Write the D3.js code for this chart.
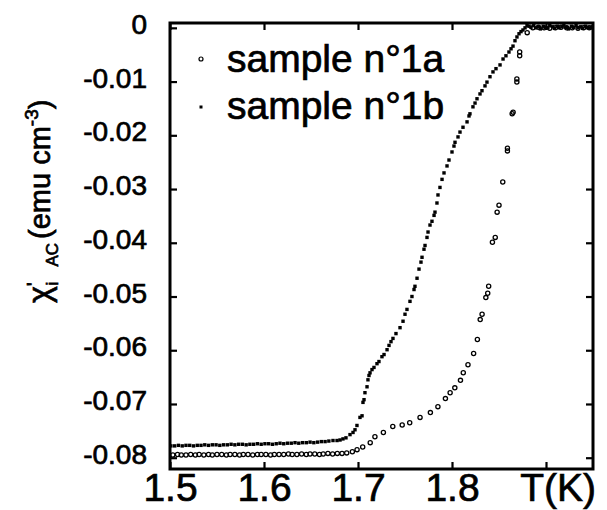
<!DOCTYPE html>
<html><head><meta charset="utf-8">
<script src="https://cdn.jsdelivr.net/npm/d3@7"></script>
<style>
html,body{margin:0;padding:0;background:#fff;}
svg{display:block;font-family:"Liberation Sans",Arial,Helvetica,sans-serif;}
</style></head>
<body>
<svg id="chart" width="607" height="510"></svg>
<script>
// ---- data ----
const seriesNames = ["sample n\u00b01a", "sample n\u00b01b"];

// sample n°1a (open circles)
const tempA = [1.503,1.508,1.512,1.517,1.522,1.527,1.531,1.536,1.541,1.545,1.550,1.555,1.560,1.564,1.569,1.574,1.578,1.583,1.588,1.593,1.597,1.602,1.607,1.611,1.616,1.621,1.626,1.630,1.635,1.640,1.645,1.649,1.654,1.659,1.663,1.668,1.673,1.678,1.683,
 1.688,1.694,1.699,1.705,1.713,1.718,1.727,1.737,1.747,1.755,1.766,1.777,1.785,1.793,1.798,1.803,1.809,1.812,1.817,1.823,1.827,1.830,1.832,1.836,1.838,1.839,1.843,1.846,1.848,1.850,1.854,1.859,1.859,1.864,1.865,1.869,1.869,1.872,1.872,1.880,
 1.886,1.892,1.898,1.904,1.910,1.916,1.922,1.928,1.934,1.940,1.946];
const chiA = [-0.0795,-0.0794,-0.0795,-0.0795,-0.0794,-0.0795,-0.0794,-0.0795,-0.0794,-0.0795,-0.0794,-0.0794,-0.0795,-0.0794,-0.0794,-0.0795,-0.0794,-0.0794,-0.0795,-0.0794,-0.0794,-0.0794,-0.0795,-0.0794,-0.0794,-0.0794,-0.0793,-0.0794,-0.0794,-0.0793,-0.0794,-0.0793,-0.0793,-0.0794,-0.0793,-0.0792,-0.0793,-0.0792,-0.0792,
 -0.0791,-0.0789,-0.0785,-0.0780,-0.0772,-0.0761,-0.0753,-0.0742,-0.0739,-0.0735,-0.0725,-0.0716,-0.0705,-0.0690,-0.0679,-0.0670,-0.0656,-0.0642,-0.0627,-0.0606,-0.0580,-0.0543,-0.0533,-0.0502,-0.0494,-0.0481,-0.0399,-0.0390,-0.0343,-0.0330,-0.0287,-0.0229,-0.0224,-0.0160,-0.0157,-0.0101,-0.0095,-0.0045,-0.0052,-0.0009,
 0.0000,0.0001,0.0000,-0.0001,0.0000,0.0001,0.0000,0.0000,-0.0001,0.0000,0.0000];

// sample n°1b (small filled dots)
const tempB = [1.501,1.505,1.509,1.513,1.517,1.521,1.525,1.529,1.533,1.537,1.541,1.545,1.549,1.553,1.557,1.561,1.565,1.569,1.573,1.577,1.581,1.585,1.589,1.593,1.597,1.601,1.605,1.609,1.613,1.617,1.621,1.625,1.629,1.633,1.637,1.641,1.645,1.649,1.653,1.657,1.661,1.665,1.669,
 1.6734,1.6777,1.6809,1.6840,1.6872,1.6915,1.6947,1.6968,1.6989,1.7021,1.7043,1.7053,1.7064,1.7074,1.7096,1.7106,1.7117,1.7128,1.7149,1.7170,1.7202,1.7223,1.7255,1.7277,1.7309,1.7330,1.7351,1.7372,1.7404,1.7447,1.7479,1.7500,1.7521,1.7553,1.7574,1.7596,1.7606,1.7628,1.7649,1.7670,1.7681,1.7702,1.7713,1.7734,1.7745,1.7766,1.7787,1.7809,1.7819,1.7840,1.7851,1.7872,1.7894,1.7915,1.7947,1.7968,1.8000,1.8021,1.8032,1.8064,1.8085,1.8117,1.8160,1.8181,1.8191,1.8223,1.8245,1.8266,1.8298,1.8319,1.8351,1.8372,1.8404,1.8436,1.8468,1.8511,1.8543,1.8574,1.8606,1.8628,1.8649,1.8670,1.8691,1.8713,1.8734,1.8755,1.8777,1.8798,
 1.882,1.884,1.887,1.889,1.892,1.894,1.897,1.899,1.902,1.904,1.907,1.909,1.912,1.914,1.917,1.919,1.922,1.924,1.927,1.929,1.932,1.934,1.937,1.939,1.942,1.944,1.947,1.949];
const chiB = [-0.0778,-0.0778,-0.0777,-0.0778,-0.0777,-0.0777,-0.0778,-0.0777,-0.0777,-0.0776,-0.0777,-0.0776,-0.0776,-0.0777,-0.0776,-0.0776,-0.0775,-0.0776,-0.0775,-0.0775,-0.0776,-0.0775,-0.0775,-0.0774,-0.0775,-0.0774,-0.0774,-0.0775,-0.0774,-0.0773,-0.0774,-0.0773,-0.0773,-0.0772,-0.0773,-0.0772,-0.0772,-0.0771,-0.0772,-0.0771,-0.0770,-0.0770,-0.0769,
 -0.0768,-0.0768,-0.0767,-0.0765,-0.0763,-0.0757,-0.0753,-0.0748,-0.0740,-0.0725,-0.0722,-0.0697,-0.0692,-0.0679,-0.0668,-0.0655,-0.0647,-0.0642,-0.0636,-0.0632,-0.0625,-0.0621,-0.0612,-0.0608,-0.0599,-0.0591,-0.0584,-0.0578,-0.0569,-0.0558,-0.0546,-0.0533,-0.0524,-0.0509,-0.0500,-0.0487,-0.0481,-0.0466,-0.0449,-0.0436,-0.0427,-0.0412,-0.0405,-0.0390,-0.0380,-0.0367,-0.0360,-0.0349,-0.0343,-0.0326,-0.0311,-0.0297,-0.0282,-0.0270,-0.0257,-0.0246,-0.0231,-0.0220,-0.0213,-0.0203,-0.0194,-0.0185,-0.0175,-0.0164,-0.0160,-0.0147,-0.0140,-0.0132,-0.0123,-0.0117,-0.0108,-0.0101,-0.0091,-0.0082,-0.0076,-0.0069,-0.0058,-0.0052,-0.0045,-0.0039,-0.0034,-0.0024,-0.0017,-0.0011,-0.0007,-0.0004,0.0000,0.0004,
 0.0003,0.0001,0.0004,0.0000,0.0002,-0.0002,0.0003,0.0001,0.0000,0.0004,0.0002,-0.0001,0.0003,0.0000,0.0002,0.0005,0.0001,-0.0002,0.0003,0.0001,0.0004,0.0000,0.0002,-0.0001,0.0003,0.0001,0.0000,0.0002];

const xTickValues = [1.5, 1.6, 1.7, 1.8, 1.9];
const xTickLabels = ["1.5", "1.6", "1.7", "1.8", ""];
const yTickValues = [0, -0.01, -0.02, -0.03, -0.04, -0.05, -0.06, -0.07, -0.08];
const yTickLabels = ["0", "-0.01", "-0.02", "-0.03", "-0.04", "-0.05", "-0.06", "-0.07", "-0.08"];
const xTitle = "T(K)";

// ---- layout ----
const L = 170, R = 593, T = 23, B = 469;
const svg = d3.select("#chart");
const x = d3.scaleLinear().domain([1.5, 1.95]).range([L, R]);
const y = d3.scaleLinear().domain([-0.0821, 0.0009]).range([B, T]);
const ink = g => g.attr("fill", "#000").attr("stroke", "#000").attr("stroke-width", 0.7);

const tickLen = 7;
const gx = svg.append("g").attr("transform", `translate(0,${B})`)
  .call(d3.axisBottom(x).tickValues(xTickValues)
    .tickFormat((d,i) => xTickLabels[i]).tickSizeInner(-tickLen).tickSizeOuter(0).tickPadding(4));
gx.selectAll("text").attr("font-size", 39).attr("font-family", null).call(ink);
svg.append("g").attr("transform", `translate(0,${T})`)
  .call(d3.axisTop(x).tickValues(xTickValues).tickFormat("").tickSizeInner(-tickLen).tickSizeOuter(0));
const gy = svg.append("g").attr("transform", `translate(${L},0)`)
  .call(d3.axisLeft(y).tickValues(yTickValues)
    .tickFormat((d,i) => yTickLabels[i]).tickSizeInner(-tickLen).tickSizeOuter(0).tickPadding(23));
gy.selectAll("text").attr("font-size", 28).attr("dy", "0.2em").attr("font-family", null).call(ink);
svg.append("g").attr("transform", `translate(${R},0)`)
  .call(d3.axisRight(y).tickValues(yTickValues).tickFormat("").tickSizeInner(-tickLen).tickSizeOuter(0));

svg.selectAll(".domain").remove();
svg.selectAll(".tick line").attr("stroke", "#000").attr("stroke-width", 2.2);

// frame
svg.append("rect").attr("x", L).attr("y", T).attr("width", R - L).attr("height", B - T)
  .attr("fill", "none").attr("stroke", "#000").attr("stroke-width", 3);

// x title
svg.append("text").attr("x", 596).attr("y", 501).attr("text-anchor", "end")
  .attr("font-size", 39).call(ink).text(xTitle);

// y title (rotated)
const yt = svg.append("text").attr("transform", "translate(50,303) rotate(-90)")
  .attr("text-anchor", "start").attr("font-size", 29).call(ink);
yt.append("tspan").attr("font-size", 32).text("\u03c7");
yt.append("tspan").attr("font-size", 20).attr("dy", -9).text("'");
yt.append("tspan").attr("font-size", 17).attr("dy", 17).attr("dx", -3).text("i");
yt.append("tspan").attr("font-size", 17).attr("dx", 15).text("AC");
yt.append("tspan").attr("dy", -8).attr("dx", 4).text("(emu cm");
yt.append("tspan").attr("font-size", 19).attr("dy", -12).text("-3");
yt.append("tspan").attr("dy", 12).text(")");

// data
const dataA = tempA.map((t, i) => ({t, v: chiA[i]}));
const dataB = tempB.map((t, i) => ({t, v: chiB[i]}));

svg.append("g").selectAll("circle").data(dataA).join("circle")
  .attr("cx", d => x(d.t)).attr("cy", d => y(d.v)).attr("r", 2.1)
  .attr("fill", "none").attr("stroke", "#000").attr("stroke-width", 1.3);

svg.append("g").selectAll("rect").data(dataB).join("rect")
  .attr("x", d => x(d.t) - 1.7).attr("y", d => y(d.v) - 1.7)
  .attr("width", 3.4).attr("height", 3.4).attr("fill", "#000");

// legend
const leg = svg.append("g");
leg.append("circle").attr("cx", 201).attr("cy", 59).attr("r", 2)
  .attr("fill", "none").attr("stroke", "#000").attr("stroke-width", 1.2);
leg.append("rect").attr("x", 199.5).attr("y", 105.5).attr("width", 3).attr("height", 3).attr("fill", "#000");
leg.append("text").attr("x", 227).attr("y", 72).attr("font-size", 39).call(ink).text(seriesNames[0]);
leg.append("text").attr("x", 227).attr("y", 119).attr("font-size", 39).call(ink).text(seriesNames[1]);
</script>
</body></html>
